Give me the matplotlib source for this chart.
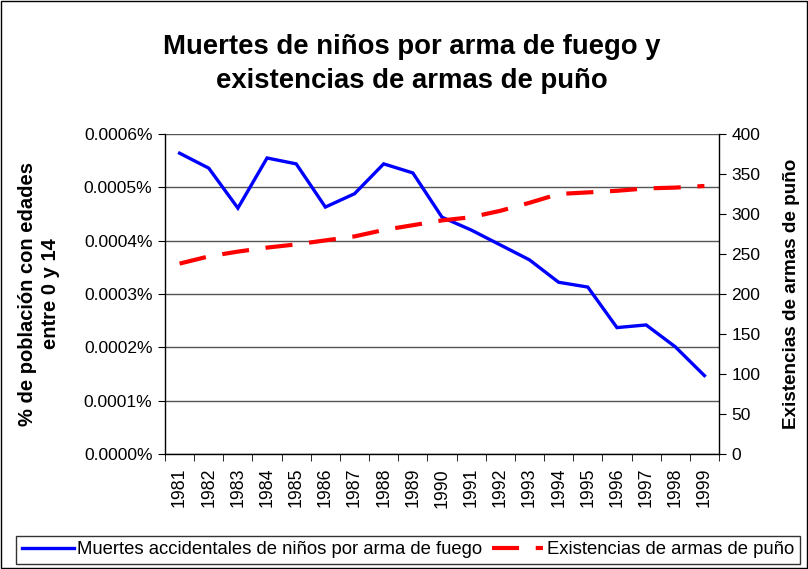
import matplotlib
matplotlib.use("Agg")
import matplotlib.pyplot as plt
from matplotlib.patches import Rectangle

years = ["1981", "1982", "1983", "1984", "1985", "1986", "1987", "1988", "1989", "1990",
         "1991", "1992", "1993", "1994", "1995", "1996", "1997", "1998", "1999"]
muertes = [0.000564, 0.000536, 0.000461, 0.000555, 0.000544, 0.000463, 0.000488, 0.000544,
           0.000527, 0.000444, 0.000420, 0.000392, 0.000364, 0.000322, 0.000313, 0.000237,
           0.000242, 0.000201, 0.000147]
armas = [238, 247, 253, 258, 262, 267, 272, 280, 286, 292, 296, 304, 314, 325, 327, 329,
         332, 333, 335]
left_ticks = [0.0, 0.0001, 0.0002, 0.0003, 0.0004, 0.0005, 0.0006]
right_ticks = [0, 50, 100, 150, 200, 250, 300, 350, 400]

plt.rcParams['font.family'] = ['Liberation Sans', 'DejaVu Sans']

W, H = 808, 569
fig = plt.figure(figsize=(W / 100, H / 100), dpi=100)
ax = fig.add_axes([165 / W, 1 - 454 / H, (719 - 165) / W, (454 - 134) / H])
ax2 = ax.twinx()

x = list(range(len(years)))
l1, = ax.plot(x, muertes, color='#0000ff', lw=2.4, solid_joinstyle='miter')
l2, = ax2.plot(x, armas, color='#ff0000', lw=3, dashes=(6.5, 4))

ax.set_xlim(-0.5, len(years) - 0.5)
ax.set_ylim(0, 0.0006)
ax2.set_ylim(0, 400)
ax.set_yticks(left_ticks)
ax.set_yticklabels([f"{v:.4f}%" for v in left_ticks], fontsize=12.5)
ax2.set_yticks(right_ticks)
ax2.set_yticklabels([str(v) for v in right_ticks], fontsize=12.5)
ax.set_xticks(x)
ax.set_xticklabels(years, rotation=90, fontsize=12.8)
ax.set_xticks([i - 0.5 for i in range(len(years) + 1)], minor=True)
ax.tick_params(axis='x', which='major', length=0, pad=10)
ax.tick_params(axis='x', which='minor', length=5, direction='out', color='black')
ax.tick_params(axis='y', length=5, direction='out', pad=4)
ax2.tick_params(axis='y', length=5, direction='out', pad=4)

ax.grid(axis='y', color='#555555', lw=1)
ax.set_axisbelow(True)
for s in ['top']:
    ax.spines[s].set_visible(False)
    ax2.spines[s].set_visible(False)
ax.spines['right'].set_visible(False)
ax2.spines['left'].set_visible(False)
ax2.spines['bottom'].set_visible(False)
for sp in [ax.spines['left'], ax.spines['bottom'], ax2.spines['right']]:
    sp.set_color('black')
    sp.set_linewidth(1)

ax.set_ylabel("% de población con edades\nentre 0 y 14", fontsize=14.5, fontweight='bold',
              labelpad=17, linespacing=1.3)
ax2.set_ylabel("Existencias de armas de puño", fontsize=13.6, fontweight='bold', labelpad=16)

fig.text(412 / W, 1 - 64 / H, "Muertes de niños por arma de fuego y\nexistencias de armas de puño",
         ha='center', va='center', fontsize=19.8, fontweight='bold', linespacing=1.45)

leg = fig.legend([l1, l2], ["Muertes accidentales de niños por arma de fuego",
                            "Existencias de armas de puño"],
                 loc='center', bbox_to_anchor=(408 / W, 1 - 550 / H), ncol=2,
                 fontsize=13.3, frameon=True, fancybox=False, edgecolor='black',
                 handlelength=2.8, handletextpad=0.2, columnspacing=0.5,
                 borderpad=0.3, borderaxespad=0)
leg.get_frame().set_linewidth(1)

fig.patches.append(Rectangle((1 / W, 1 / H), 1 - 2 / W, 1 - 2 / H, transform=fig.transFigure,
                             fill=False, edgecolor='black', lw=1))

fig.savefig("out.png", dpi=100)
